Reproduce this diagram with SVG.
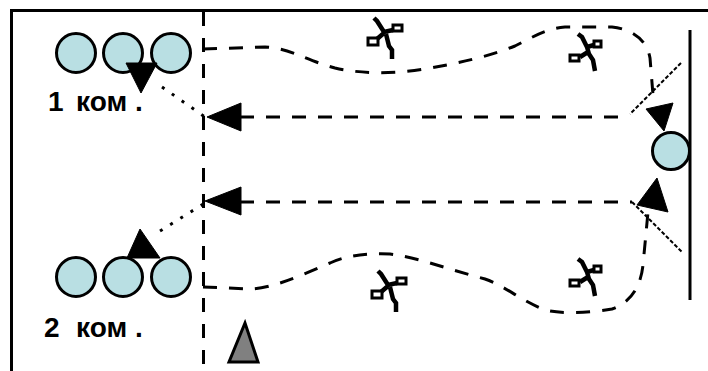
<svg xmlns="http://www.w3.org/2000/svg" width="708" height="371" viewBox="0 0 708 371">
  <style>
    .frame { stroke: #000; stroke-width: 3; fill: none; }
    .dash { stroke: #000; stroke-width: 3; fill: none; stroke-dasharray: 14 12; }
    .dots { stroke: #000; stroke-width: 3; fill: none; stroke-dasharray: 3 9; }
    .fine { stroke: #000; stroke-width: 2; fill: none; stroke-dasharray: 4 2; }
    .ball { fill: #B9DFE3; stroke: #000; stroke-width: 3; }
    .head { fill: #000; stroke: #000; stroke-width: 1; }
    .lbl { font-family: "Liberation Sans", Arial, sans-serif; font-size: 28px; font-weight: bold; fill: #000; }
    .limb { stroke: #000; stroke-width: 4.5; fill: none; stroke-linejoin: miter; }
    .loop { stroke: #000; stroke-width: 3; fill: #fff; }
  </style>
  <defs>
    <g id="skaterA">
      <path class="limb" d="M-12,-16 L-9,-13 L-2,-2 L7,-4 M-2,-1 L-9,5 M0,0 L3,12 L6,16 L6,25"/>
      <rect class="loop" x="7" y="-9" width="9" height="6"/>
      <rect class="loop" x="-18" y="4" width="10" height="7"/>
    </g>
    <g id="skaterB">
      <path class="limb" d="M-10,-16 L-6,-13 L-1,-3 L1,4 M-1,-3 L6,-5 M0,2 L-8,7 M1,4 L5,10 L7,21"/>
      <rect class="loop" x="6" y="-9" width="7" height="6"/>
      <rect class="loop" x="-18" y="5" width="9" height="6"/>
    </g>
  </defs>

  <rect width="708" height="371" fill="#fff"/>

  <!-- court edges -->
  <g id="court">
    <path class="frame" d="M11.5,371 L11.5,10.5 L708,10.5"/>
    <line class="frame" x1="690" y1="30" x2="690" y2="300" stroke-width="3.5"/>
    <line class="dash" x1="203.5" y1="12" x2="203.5" y2="371" stroke-dasharray="14 11"/>
  </g>

  <!-- team 1 -->
  <g id="team1">
    <circle class="ball" cx="76" cy="53" r="19.5"/>
    <circle class="ball" cx="123" cy="53" r="19.5"/>
    <circle class="ball" cx="171" cy="53" r="19.5"/>
    <text class="lbl" x="48" y="111">1</text>
    <text class="lbl" x="76" y="111">ком</text>
    <text class="lbl" x="135" y="111">.</text>
  </g>

  <!-- team 2 -->
  <g id="team2">
    <circle class="ball" cx="76" cy="277" r="19.5"/>
    <circle class="ball" cx="123" cy="277" r="19.5"/>
    <circle class="ball" cx="171" cy="277" r="19.5"/>
    <text class="lbl" x="44" y="337">2</text>
    <text class="lbl" x="76" y="337">ком</text>
    <text class="lbl" x="135" y="337">.</text>
  </g>

  <!-- turning player at the far wall -->
  <g id="turn-player">
    <circle class="ball" cx="671" cy="151" r="18.5"/>
  </g>

  <!-- cone -->
  <g id="cone">
    <polygon points="245,323 229,362 258,362" fill="#808080" stroke="#000" stroke-width="3"/>
  </g>

  <!-- obstacles -->
  <g id="skaters">
    <use href="#skaterA" x="386" y="34"/>
    <use href="#skaterB" x="588" y="50"/>
    <use href="#skaterA" x="390" y="287"/>
    <use href="#skaterB" x="588" y="275"/>
  </g>

  <!-- connectors -->
  <g id="connectors">
    <!-- outgoing slalom, team 1 -->
    <path class="dash" d="M203,49 L265,47 C290,48 305,60 335,68 C360,74 395,74 425,69 C460,63 490,56 515,46 C535,36 545,29 565,27 L612,27 C632,29 647,40 650,58 L653,95"/>
    <!-- outgoing slalom, team 2 -->
    <path class="dash" d="M203,287 L250,289 C270,289 300,276 330,263 C345,256 365,253 390,254 C420,258 450,270 485,279 C505,286 520,300 545,310 C560,314 590,313 612,309 C632,302 641,285 643,265 L648,212"/>
    <!-- return runs -->
    <line class="dash" x1="240" y1="117" x2="628" y2="117" stroke-dasharray="15 11"/>
    <line class="dash" x1="240" y1="202" x2="632" y2="202" stroke-dasharray="15 11"/>
    <!-- wall rebounds -->
    <line class="fine" x1="681" y1="63" x2="630" y2="114"/>
    <line class="fine" x1="632" y1="202" x2="682" y2="252"/>
    <!-- hand-offs to the next player -->
    <line class="dots" x1="162" y1="87" x2="205" y2="117"/>
    <line class="dots" x1="160" y1="231" x2="205" y2="203"/>

    <!-- arrowheads -->
    <polygon class="head" points="646,109 673,103 664,131"/>
    <polygon class="head" points="657,178 668,212 637,205"/>
    <polygon class="head" points="207,117 241,103 241,131"/>
    <polygon class="head" points="205,201 241,187 241,215"/>
    <polygon class="head" points="126,63 157,63 141,93"/>
    <polygon class="head" points="140,229 160,258 127,258"/>
  </g>
</svg>
